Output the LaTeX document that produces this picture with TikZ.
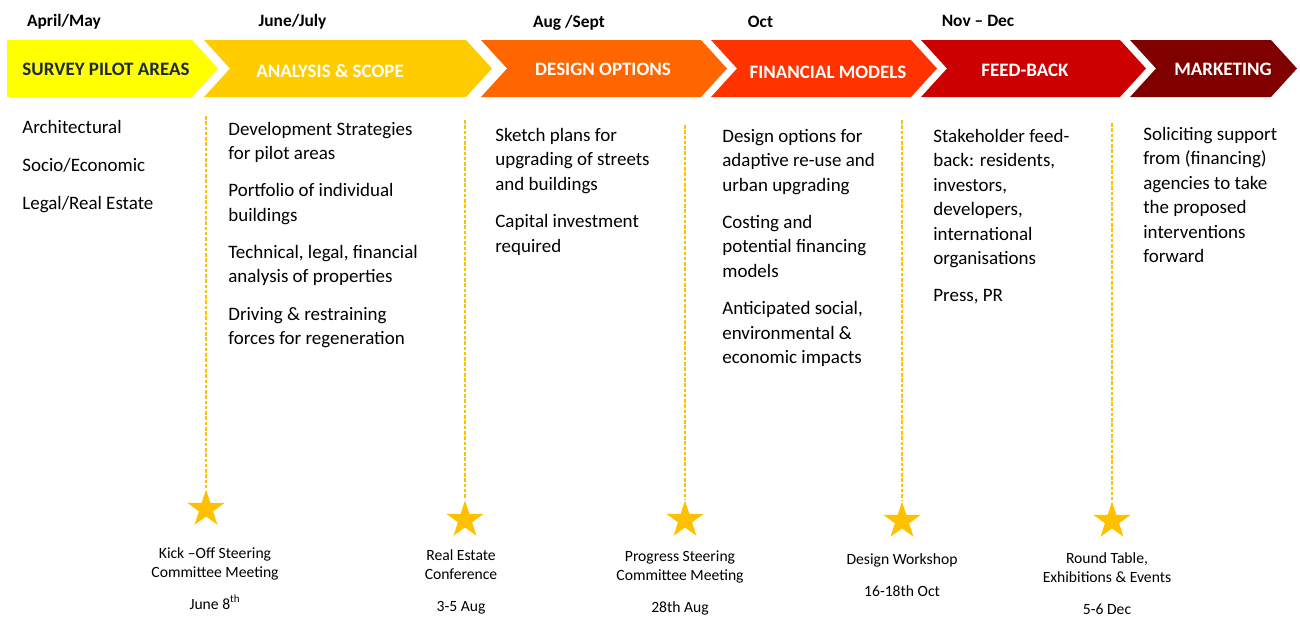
\documentclass[tikz,border=0pt]{standalone}
\usepackage{fontspec}
\setmainfont{Carlito}
\usetikzlibrary{shapes.geometric}
\definecolor{cA}{HTML}{FFFF00}
\definecolor{cB}{HTML}{FFCC00}
\definecolor{cC}{HTML}{FF6600}
\definecolor{cD}{HTML}{FF3300}
\definecolor{cE}{HTML}{CC0000}
\definecolor{cF}{HTML}{800000}
\definecolor{gold}{HTML}{FFC000}
\definecolor{navy}{HTML}{1B2A41}
\begin{document}
\begin{tikzpicture}[x=0.02cm,y=-0.02cm,
  month/.style={font=\fontsize{9.9}{12}\selectfont\bfseries, text=black, inner sep=0, anchor=base},
  head/.style={font=\fontsize{10.8}{13}\selectfont\bfseries, text=white, inner sep=0, anchor=base},
  body/.style={font=\fontsize{10.8}{13.9}\selectfont, align=left, anchor=north west, inner sep=0, text=black},
  event/.style={font=\fontsize{8.9}{10.8}\selectfont, align=center, anchor=north, inner sep=0, text=black},
  guide/.style={draw=gold, line width=0.6pt, dash pattern=on 2pt off 1pt},
  milestone/.style={star, star points=5, star point ratio=2.618, fill=gold, draw=none, minimum size=0.78cm, inner sep=0}]
\useasboundingbox (0,0) rectangle (1300,616);

% chevrons
\fill[cA] (7,40) -- (192,40) -- (218,68.5) -- (192,97) -- (7,97) -- cycle;
\fill[cB] (204,40) -- (466,40) -- (492,68.5) -- (466,97) -- (204,97) -- (230,68.5) -- cycle;
\fill[cC] (481,40) -- (701,40) -- (727,68.5) -- (701,97) -- (481,97) -- (507,68.5) -- cycle;
\fill[cD] (711,40) -- (911,40) -- (937,68.5) -- (911,97) -- (711,97) -- (737,68.5) -- cycle;
\fill[cE] (921,40) -- (1120,40) -- (1146,68.5) -- (1120,97) -- (921,97) -- (947,68.5) -- cycle;
\fill[cF] (1130,40) -- (1271,40) -- (1297,68.5) -- (1271,97) -- (1130,97) -- (1156,68.5) -- cycle;

% month labels
\node[month] (m1) at (64,26) {April/May};
\node[month] (m2) at (292.5,26) {June/July};
\node[month] (m3) at (569,27) {Aug /Sept};
\node[month] (m4) at (760.5,27) {Oct};
\node[month] (m5) at (978,26) {Nov -- Dec};

% headers
\node[head, text=navy] (h1) at (106,75) {SURVEY PILOT AREAS};
\node[head] (h2) at (330,77) {ANALYSIS \& SCOPE};
\node[head] (h3) at (603,75) {DESIGN OPTIONS};
\node[head] (h4) at (828,78) {FINANCIAL MODELS};
\node[head] (h5) at (1025,76) {FEED-BACK};
\node[head] (h6) at (1223,75) {MARKETING};

% body columns
\node[body] (b1) at (22,119.5) {Architectural\\[7.9pt]Socio/Economic\\[7.9pt]Legal/Real Estate};
\node[body] (b2) at (228,121.5) {Development Strategies\\for pilot areas\\[7.3pt]Portfolio of individual\\buildings\\[7.3pt]Technical, legal, financial\\analysis of properties\\[7.3pt]Driving \& restraining\\forces for regeneration};
\node[body] (b3) at (495,128) {Sketch plans for\\upgrading of streets\\and buildings\\[7.3pt]Capital investment\\required};
\node[body] (b4) at (722,129) {Design options for\\adaptive re-use and\\urban upgrading\\[7.3pt]Costing and\\potential financing\\models\\[7.3pt]Anticipated social,\\environmental \&\\economic impacts};
\node[body] (b5) at (933,129) {Stakeholder feed-\\back: residents,\\investors,\\developers,\\international\\organisations\\[7.3pt]Press, PR};
\node[body] (b6) at (1143,127) {Soliciting support\\from (financing)\\agencies to take\\the proposed\\interventions\\forward};

% milestones
\node[milestone] (s1) at (206,509) {};
\node[milestone] (s2) at (465,520) {};
\node[milestone] (s3) at (685,520) {};
\node[milestone] (s4) at (902,521) {};
\node[milestone] (s5) at (1112,521) {};

\coordinate (g1) at (206,116);
\coordinate (g2) at (465,120);
\coordinate (g3) at (685,125);
\coordinate (g4) at (902,120);
\coordinate (g5) at (1112,123);
\draw[guide] (g1) -- (s1.north);
\draw[guide] (g2) -- (s2.north);
\draw[guide] (g3) -- (s3.north);
\draw[guide] (g4) -- (s4.north);
\draw[guide] (g5) -- (s5.north);

% event labels
\node[event] (e1) at (215,547) {Kick --Off Steering\\Committee Meeting\\[7.6pt]June 8\textsuperscript{th}};
\node[event] (e2) at (461,549) {Real Estate\\Conference\\[7.6pt]3-5 Aug};
\node[event] (e3) at (680,550) {Progress Steering\\Committee Meeting\\[7.6pt]28th Aug};
\node[event] (e4) at (902,553) {Design Workshop\\[7.6pt]16-18th Oct};
\node[event] (e5) at (1107,552) {Round Table,\\Exhibitions \& Events\\[7.6pt]5-6 Dec};
\end{tikzpicture}
\end{document}
